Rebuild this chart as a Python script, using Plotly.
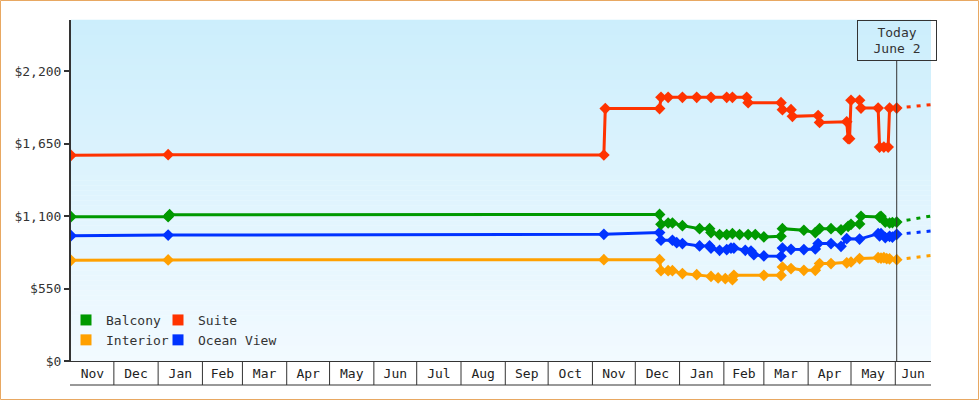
import plotly.graph_objects as go
import pandas as pd

# ---------------- data ----------------
SERIES_NAMES = ["Balcony", "Suite", "Interior", "Ocean View"]
SERIES_COLORS = ["#009900", "#FF3300", "#FFA000", "#0033FF"]

suite_dates = ["2012-11-01", "2013-01-08", "2013-11-09", "2013-11-10", "2013-12-18", "2013-12-19",
               "2013-12-24", "2014-01-03", "2014-01-13", "2014-01-23", "2014-02-03", "2014-02-07",
               "2014-02-17", "2014-02-18", "2014-03-13", "2014-03-14", "2014-03-20", "2014-03-21",
               "2014-04-08", "2014-04-09", "2014-04-28", "2014-04-29", "2014-04-30", "2014-05-01",
               "2014-05-07", "2014-05-08", "2014-05-20", "2014-05-21", "2014-05-24", "2014-05-27",
               "2014-05-28", "2014-06-02"]
suite_values = [1560, 1565, 1563, 1915, 1915, 2000,
                2000, 2000, 2000, 2000, 2000, 2000,
                2000, 1960, 1960, 1907, 1907, 1856,
                1862, 1810, 1815, 1687, 1687, 1978,
                1978, 1919, 1919, 1623, 1623, 1623,
                1919, 1919]

balcony_dates = ["2012-11-01", "2013-01-08", "2013-01-09", "2013-12-18", "2013-12-19", "2013-12-24",
                 "2013-12-27", "2014-01-03", "2014-01-15", "2014-01-22", "2014-01-23", "2014-01-29",
                 "2014-02-03", "2014-02-07", "2014-02-12", "2014-02-18", "2014-02-23", "2014-03-01",
                 "2014-03-13", "2014-03-14", "2014-03-29", "2014-04-06", "2014-04-09", "2014-04-17",
                 "2014-04-24", "2014-04-29", "2014-05-01", "2014-05-07", "2014-05-08", "2014-05-21",
                 "2014-05-22", "2014-05-25", "2014-05-28", "2014-05-30", "2014-06-02"]
balcony_values = [1095, 1095, 1110, 1112, 1037, 1047,
                  1047, 1027, 1004, 1004, 974, 959,
                  959, 966, 959, 959, 959, 941,
                  946, 1004, 992, 974, 1004, 1004,
                  995, 1022, 1037, 1040, 1098, 1092,
                  1098, 1054, 1047, 1050, 1054]

interior_dates = ["2012-11-01", "2013-01-08", "2013-11-09", "2013-12-18", "2013-12-19", "2013-12-24",
                  "2013-12-27", "2014-01-03", "2014-01-13", "2014-01-23", "2014-01-28", "2014-02-02",
                  "2014-02-07", "2014-02-08", "2014-03-01", "2014-03-13", "2014-03-14", "2014-03-20",
                  "2014-03-29", "2014-04-06", "2014-04-09", "2014-04-17", "2014-04-28", "2014-05-01",
                  "2014-05-07", "2014-05-20", "2014-05-22", "2014-05-24", "2014-05-26", "2014-05-28",
                  "2014-06-02"]
interior_values = [764, 767, 769, 769, 685, 685,
                   685, 663, 655, 642, 630, 625,
                   617, 650, 650, 650, 713, 701,
                   688, 688, 739, 739, 745, 751,
                   777, 784, 780, 784, 777, 775,
                   769]

ocean_dates = ["2012-11-01", "2013-01-08", "2013-11-09", "2013-12-18", "2013-12-19", "2013-12-27",
               "2013-12-30", "2014-01-03", "2014-01-15", "2014-01-22", "2014-01-23", "2014-01-29",
               "2014-02-03", "2014-02-06", "2014-02-08", "2014-02-16", "2014-02-20", "2014-02-22",
               "2014-03-01", "2014-03-13", "2014-03-14", "2014-03-20", "2014-03-29", "2014-04-06",
               "2014-04-08", "2014-04-17", "2014-04-24", "2014-04-28", "2014-05-07", "2014-05-20",
               "2014-05-21", "2014-05-22", "2014-05-25", "2014-05-28", "2014-05-30", "2014-06-02"]
ocean_values = [951, 955, 961, 974, 916, 916,
                898, 891, 873, 873, 857, 840,
                845, 857, 857, 840, 834, 807,
                797, 794, 857, 847, 845, 850,
                891, 891, 870, 928, 925, 966,
                950, 966, 936, 946, 940, 961]

# projected prices after today (dashed)
projection_dates = ["2014-06-02", "2014-06-26"]
suite_projection = [1919, 1945]
balcony_projection = [1054, 1100]
interior_projection = [769, 800]
ocean_projection = [961, 986]

MONTH_LABELS = ["Nov", "Dec", "Jan", "Feb", "Mar", "Apr", "May", "Jun", "Jul", "Aug", "Sep", "Oct",
                "Nov", "Dec", "Jan", "Feb", "Mar", "Apr", "May", "Jun"]
Y_TICKS = [0, 550, 1100, 1650, 2200]
Y_TICK_LABELS = ["$0", "$550", "$1,100", "$1,650", "$2,200"]
TODAY = "2014-06-02"
TODAY_LABEL = "Today<br>June 2"

X_START, X_END = "2012-11-01", "2014-06-26"
Y_MAX = 2587

# ---------------- layout constants ----------------
W, H = 980, 400
L, R, T, B = 71, 931, 20, 361
PW, PH = R - L, B - T
FONT = "DejaVu Sans Mono"
INK = "#333333"


def px_x(p):
    return (p - L) / PW


def px_y(p):
    return (B - p) / PH


fig = go.Figure()

series = [
    ("Interior", interior_dates, interior_values, interior_projection, "#FFA000"),
    ("Ocean View", ocean_dates, ocean_values, ocean_projection, "#0033FF"),
    ("Balcony", balcony_dates, balcony_values, balcony_projection, "#009900"),
    ("Suite", suite_dates, suite_values, suite_projection, "#FF3300"),
]
for name, d, v, proj, col in series:
    fig.add_trace(go.Scatter(x=projection_dates, y=proj, mode="lines",
                             line=dict(color=col, width=3, dash="4px,6px"),
                             showlegend=False, hoverinfo="skip"))
    fig.add_trace(go.Scatter(x=d, y=v, mode="lines+markers", name=name,
                             line=dict(color=col, width=3),
                             marker=dict(symbol="diamond", size=9, color=col),
                             showlegend=False))

# legend entries (square swatches), two columns
legend_of = {"Balcony": "legend", "Interior": "legend", "Suite": "legend2", "Ocean View": "legend2"}
for name, col in zip(SERIES_NAMES, SERIES_COLORS):
    fig.add_trace(go.Scatter(x=[None], y=[None], mode="markers", name=name,
                             marker=dict(symbol="square", size=11, color=col),
                             legend=legend_of[name], showlegend=True))

shapes = []
# gradient background
top = (204, 238, 252)
bot = (242, 250, 255)
N = 68
for i in range(N):
    t = i / (N - 1)
    c = tuple(round(top[k] + (bot[k] - top[k]) * t) for k in range(3))
    shapes.append(dict(type="rect", xref="paper", yref="paper", x0=0, x1=1,
                       y0=1 - (i + 1) / N, y1=1 - i / N + 0.001,
                       fillcolor="rgb(%d,%d,%d)" % c, line=dict(width=0), layer="below"))

# month table under the x axis
month_starts = pd.date_range(X_START, X_END, freq="MS")
for ms in month_starts[1:]:
    shapes.append(dict(type="line", xref="x", yref="paper", x0=ms, x1=ms,
                       y0=0, y1=px_y(385), line=dict(color=INK, width=1)))
shapes.append(dict(type="line", xref="paper", yref="paper", x0=px_x(70), x1=1,
                   y0=px_y(385), y1=px_y(385), line=dict(color=INK, width=1)))

# today marker line
shapes.append(dict(type="line", xref="x", yref="paper", x0=TODAY, x1=TODAY,
                   y0=0, y1=px_y(60), line=dict(color=INK, width=1)))

# outer border
shapes.append(dict(type="rect", xref="paper", yref="paper",
                   x0=px_x(0.5), x1=px_x(978.5), y0=px_y(399.5), y1=px_y(0.5),
                   line=dict(color="#E8A862", width=1), fillcolor="rgba(0,0,0,0)"))

# tick positions: centre of visible part of each month
end_ts = pd.Timestamp(X_END)
tick_pos = []
for ms in month_starts:
    me = min(ms + pd.offsets.MonthBegin(1), end_ts)
    tick_pos.append(ms + (me - ms) / 2)

fig.update_layout(
    width=W, height=H,
    margin=dict(l=L, r=W - R, t=T, b=H - B, pad=0),
    paper_bgcolor="white",
    plot_bgcolor="rgba(0,0,0,0)",
    font=dict(family=FONT, size=13, color=INK),
    shapes=shapes,
    annotations=[dict(x=TODAY, xref="x", y=1, yref="paper", xanchor="center", yanchor="top",
                      text=TODAY_LABEL, showarrow=False, align="center",
                      font=dict(family=FONT, size=13, color=INK),
                      bordercolor=INK, borderwidth=1, borderpad=3, width=72, height=33,
                      bgcolor="rgba(0,0,0,0)")],
    legend=dict(x=px_x(66), y=px_y(305), xanchor="left", yanchor="top",
                bgcolor="rgba(0,0,0,0)", borderwidth=0,
                font=dict(family=FONT, size=13, color=INK)),
    legend2=dict(x=px_x(158), y=px_y(305), xanchor="left", yanchor="top",
                 bgcolor="rgba(0,0,0,0)", borderwidth=0,
                 font=dict(family=FONT, size=13, color=INK)),
    xaxis=dict(type="date", range=[X_START, X_END], showgrid=False, zeroline=False,
               showline=True, linecolor=INK, linewidth=1,
               tickvals=tick_pos, ticktext=MONTH_LABELS, ticks="",
               tickfont=dict(family=FONT, size=13, color="#222222")),
    yaxis=dict(range=[0, Y_MAX], showgrid=False, zeroline=False,
               showline=True, linecolor=INK, linewidth=2,
               tickvals=Y_TICKS, ticktext=Y_TICK_LABELS, ticks="outside", ticklen=5,
               tickwidth=2, tickcolor=INK,
               tickfont=dict(family=FONT, size=13, color=INK)),
    hovermode="closest",
)

fig.write_html("out.html")
